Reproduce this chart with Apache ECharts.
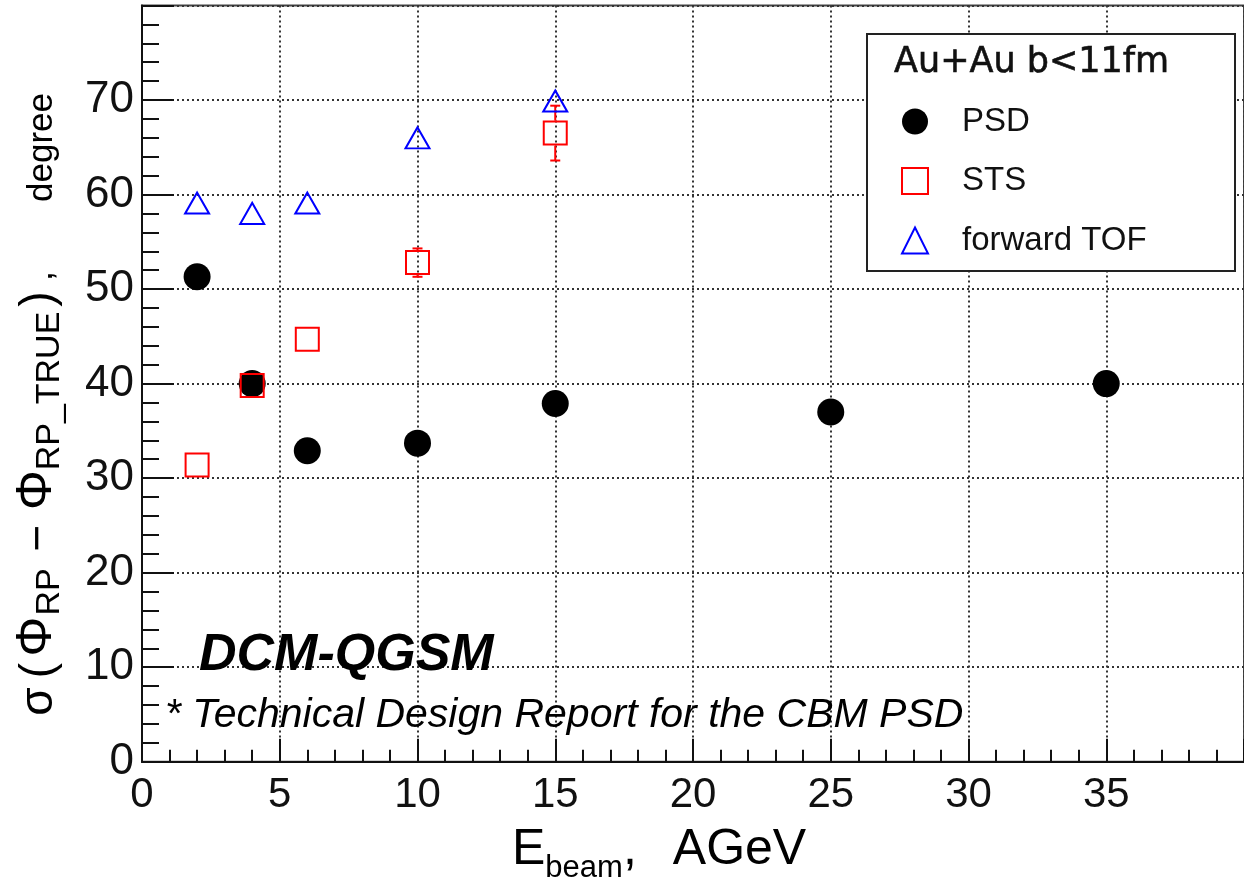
<!DOCTYPE html>
<html>
<head>
<meta charset="utf-8">
<script src="https://cdn.jsdelivr.net/npm/echarts@6/dist/echarts.min.js"></script>
<style>
  html, body { margin: 0; padding: 0; background: #fff; }
  #chart { width: 1244px; height: 884px; }
</style>
</head>
<body>
<div id="chart"></div>
<script>
// Event-plane resolution vs. beam energy, Au+Au b<11fm (DCM-QGSM)
const psdEnergy = [2, 4, 6, 10, 15, 25, 35];
const psdSigma  = [51.3, 40.0, 32.9, 33.7, 37.9, 37.0, 40.0];

const stsEnergy = [2, 4, 6, 10, 15];
const stsSigma  = [31.4, 39.8, 44.7, 52.8, 66.5];
const stsError  = [0, 0, 0, 1.5, 2.9];

const tofEnergy = [2, 4, 6, 10, 15];
const tofSigma  = [59.1, 58.0, 59.1, 66.0, 69.9];

const seriesNames = ['PSD', 'STS', 'forward TOF'];
const legendTitle = 'Au+Au b<11fm';
const modelLabel  = 'DCM-QGSM';
const sourceNote  = '* Technical Design Report for the CBM PSD';

const pairs = (xs, ys) => xs.map((x, i) => [x, ys[i]]);

const STS_HALF = 12.5;   // half of the open-square marker, px
const CAP_HALF = 5;      // half width of error-bar caps, px
const SANS = '"Liberation Sans", Arial, sans-serif';

function renderErrorBar(params, api) {
  const x = api.value(0), y = api.value(1), err = api.value(2);
  const mid = api.coord([x, y]);
  const hi = api.coord([x, y + err]);
  const lo = api.coord([x, y - err]);
  const style = { stroke: '#ff0000', lineWidth: 2 };
  const children = [];
  if (mid[1] - hi[1] > STS_HALF) {
    children.push({ type: 'line', shape: { x1: mid[0], y1: hi[1], x2: mid[0], y2: mid[1] - STS_HALF }, style });
    children.push({ type: 'line', shape: { x1: mid[0] - CAP_HALF, y1: hi[1], x2: mid[0] + CAP_HALF, y2: hi[1] }, style });
  }
  if (lo[1] - mid[1] > STS_HALF) {
    children.push({ type: 'line', shape: { x1: mid[0], y1: mid[1] + STS_HALF, x2: mid[0], y2: lo[1] }, style });
    children.push({ type: 'line', shape: { x1: mid[0] - CAP_HALF, y1: lo[1], x2: mid[0] + CAP_HALF, y2: lo[1] }, style });
  }
  return { type: 'group', children };
}

// Rich-text piece sitting on a common baseline: baseline = padTop + 0.85 * size
function piece(size, width, baseline, align) {
  return {
    fontFamily: SANS, fontSize: size, lineHeight: size, width: width,
    align: align || 'center', verticalAlign: 'top',
    padding: [baseline - 0.85 * size, 0, 0, 0],
    fill: '#000', color: '#000'
  };
}

const chart = echarts.init(document.getElementById('chart'), null, { renderer: 'canvas' });

const tickLine = { color: '#111', width: 2 };
const gridDots = { color: '#333', width: 2, type: [2, 3] };

const MAIN_BASE = 50;  // baseline of the y title body (local px)
const SUB_BASE = 57;   // baseline of its subscripts

chart.setOption({
  animation: false,
  backgroundColor: '#ffffff',
  grid: {
    left: 142, right: -8, top: 5.5, bottom: 122.3,
    show: true, borderColor: '#444', borderWidth: 2, backgroundColor: 'transparent'
  },
  xAxis: {
    type: 'value', min: 0, max: 40, interval: 5,
    axisLine: { lineStyle: tickLine },
    axisTick: { inside: true, length: 23, lineStyle: tickLine },
    minorTick: { show: true, splitNumber: 5, length: 12, lineStyle: tickLine },
    splitLine: { show: true, lineStyle: gridDots },
    axisLabel: { fontFamily: SANS, fontSize: 42, color: '#111', margin: 13, showMaxLabel: false }
  },
  yAxis: {
    type: 'value', min: 0, max: 80, interval: 10,
    axisLine: { lineStyle: tickLine },
    axisTick: { inside: true, length: 32, lineStyle: tickLine },
    minorTick: { show: true, splitNumber: 5, length: 17, lineStyle: tickLine },
    splitLine: { show: true, lineStyle: gridDots },
    axisLabel: { fontFamily: SANS, fontSize: 44, color: '#111', margin: 8, showMaxLabel: false }
  },
  legend: {
    orient: 'vertical', left: 901, top: 105, padding: 0,
    itemWidth: 26, itemHeight: 26, itemGap: 26.5,
    selectedMode: false,
    data: seriesNames,
    textStyle: { fontFamily: SANS, fontSize: 33, color: '#111', padding: [0, 0, 0, 29] },
    z: 6
  },
  graphic: [
    {
      type: 'rect', z: 5,
      shape: { x: 867, y: 34, width: 368, height: 237 },
      style: { fill: '#ffffff', stroke: '#222', lineWidth: 2 }
    },
    {
      type: 'text', z: 6, x: 894, y: 63,
      style: { text: legendTitle, font: '35px "DejaVu Sans"', fill: '#111', stroke: '#111', lineWidth: 0.6,
               align: 'left', verticalAlign: 'middle', textAlign: 'left', textVerticalAlign: 'middle' }
    },
    {
      type: 'text', z: 6, x: 199, y: 656,
      style: { text: modelLabel, font: 'italic bold 52px ' + SANS, fill: '#000',
               align: 'left', verticalAlign: 'middle', textAlign: 'left', textVerticalAlign: 'middle' }
    },
    {
      type: 'text', z: 6, x: 165, y: 716,
      style: { text: sourceNote, font: 'italic 41px ' + SANS, fill: '#000',
               align: 'left', verticalAlign: 'middle', textAlign: 'left', textVerticalAlign: 'middle' }
    },
    {
      // x-axis title: E_beam, AGeV
      type: 'text', z: 6, x: 512, y: 815,
      style: {
        text: '{m|E}{s|beam}{m|,}{a|AGeV}',
        align: 'left', verticalAlign: 'top', textAlign: 'left', textVerticalAlign: 'top',
        rich: {
          m: { fontFamily: SANS, fontSize: 50, lineHeight: 70, fill: '#000', color: '#000' },
          a: { fontFamily: SANS, fontSize: 50, lineHeight: 70, fill: '#000', color: '#000', padding: [0, 0, 0, 36] },
          s: { fontFamily: SANS, fontSize: 31, lineHeight: 31, fill: '#000', color: '#000', verticalAlign: 'top', padding: [38, 0, 0, 0] }
        }
      }
    },
    {
      // y-axis title: sigma(Phi_RP - Phi_RP_TRUE), degree ; reads bottom to top
      type: 'text', z: 6, x: 5, y: 93, rotation: Math.PI / 2,
      style: {
        text: '{sg|σ}{po|(}{p1|Φ}{r1|RP}{mi|−}{p2|Φ}{r2|RP_TRUE}{pc|)}{cm|,}{dg|degree}',
        align: 'right', verticalAlign: 'top', textAlign: 'right', textVerticalAlign: 'top',
        rich: {
          sg: piece(46, 31, MAIN_BASE),
          po: piece(46, 31, MAIN_BASE),
          p1: piece(50, 37, MAIN_BASE),
          r1: piece(34, 52, SUB_BASE),
          mi: piece(46, 56, MAIN_BASE),
          p2: piece(50, 40, MAIN_BASE),
          r2: piece(34, 158, SUB_BASE),
          pc: piece(46, 26, MAIN_BASE),
          cm: piece(36, 20, MAIN_BASE),
          dg: piece(35, 173, MAIN_BASE, 'right')
        }
      }
    }
  ],
  series: [
    {
      name: 'PSD', type: 'scatter', z: 3,
      data: pairs(psdEnergy, psdSigma),
      symbol: 'circle', symbolSize: 27,
      itemStyle: { color: '#000000', opacity: 1 }
    },
    {
      name: 'STS', type: 'scatter', z: 3,
      data: pairs(stsEnergy, stsSigma),
      symbol: 'rect', symbolSize: 23,
      itemStyle: { color: 'rgba(0,0,0,0)', borderColor: '#ff0000', borderWidth: 2, opacity: 1 }
    },
    {
      name: 'STS error', type: 'custom', z: 3,
      data: stsEnergy.map((x, i) => [x, stsSigma[i], stsError[i]]),
      encode: { x: 0, y: 1 },
      renderItem: renderErrorBar
    },
    {
      name: 'forward TOF', type: 'scatter', z: 3,
      data: pairs(tofEnergy, tofSigma),
      symbol: 'triangle', symbolSize: [24, 21],
      itemStyle: { color: 'rgba(0,0,0,0)', borderColor: '#0000ff', borderWidth: 2, opacity: 1 }
    }
  ]
});
</script>
</body>
</html>
